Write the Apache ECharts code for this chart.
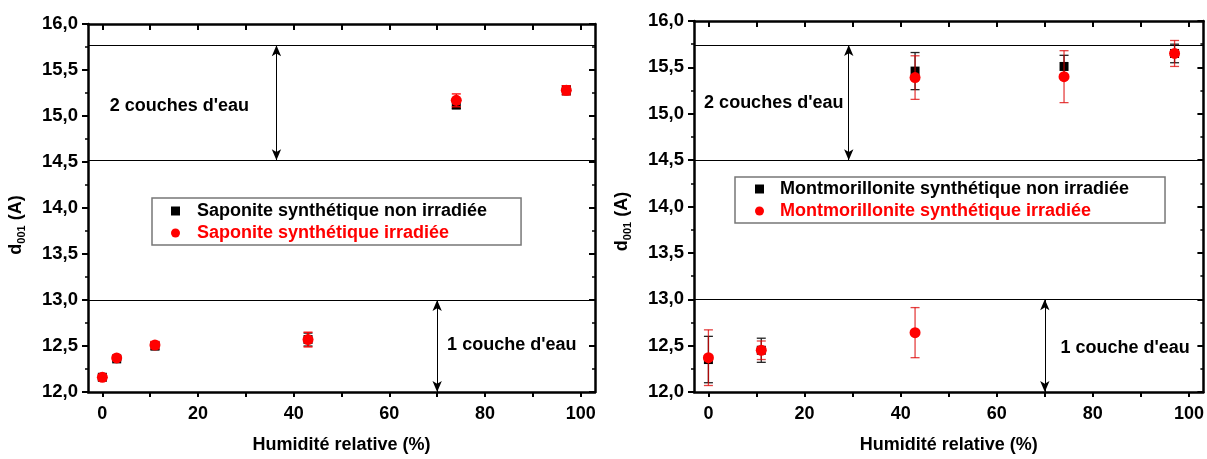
<!DOCTYPE html>
<html>
<head>
<meta charset="utf-8">
<script src="https://cdn.jsdelivr.net/npm/echarts@6/dist/echarts.min.js"></script>
<style>
  html, body { margin: 0; padding: 0; background: #fff; }
  #chart { width: 1207px; height: 459px; }
</style>
</head>
<body>
<div id="chart"></div>
<script>
// [x, d001, erreur]
var sapNonIrr = [[0, 12.16, 0.03], [3, 12.36, 0.02], [11, 12.50, 0.04], [43, 12.57, 0.07], [74, 15.12, 0.04], [97, 15.28, 0.05]];
var sapIrr    = [[0, 12.16, 0.03], [3, 12.37, 0.02], [11, 12.51, 0.04], [43, 12.57, 0.08], [74, 15.17, 0.07], [97, 15.28, 0.05]];
var monNonIrr = [[0, 12.35, 0.25], [11, 12.45, 0.13], [43, 15.46, 0.20], [74, 15.51, 0.12], [97, 15.65, 0.10]];
var monIrr    = [[0, 12.37, 0.30], [11, 12.45, 0.10], [43, 12.64, 0.27], [43, 15.39, 0.235], [74, 15.40, 0.28], [97, 15.65, 0.14]];

var xTickLabels = [0, 20, 40, 60, 80, 100];
var xTicks = [0, 10, 20, 30, 40, 50, 60, 70, 80, 90, 100];

// lignes de référence et flèches (limites des couches d'eau)
var sapLimits = [15.77, 14.52, 13.0];
var monLimits = [15.74, 14.5, 13.0];
var sapArrows = [[36.4, 14.52, 15.77], [70, 12.0, 13.0]];
var monArrows = [[29.2, 14.5, 15.74], [70, 12.0, 13.0]];
var sapNotes = [[16.1, 15.11, "2 couches d'eau"], [85.6, 12.51, "1 couche d'eau"]];
var monNotes = [[13.6, 15.12, "2 couches d'eau"], [86.7, 12.47, "1 couche d'eau"]];

var FONT = 'Liberation Sans, Arial, sans-serif';
var RED = '#ff0000';

var chart = echarts.init(document.getElementById('chart'));

function errRender(color, cap) {
    return function (params, api) {
        var x = api.value(0), y = api.value(1), e = api.value(2);
        var t = api.coord([x, y + e]), b = api.coord([x, y - e]);
        var s = { stroke: color, lineWidth: 1.3 };
        return {
            type: 'group',
            children: [
                { type: 'line', shape: { x1: t[0], y1: t[1], x2: b[0], y2: b[1] }, style: s },
                { type: 'line', shape: { x1: t[0] - cap, y1: t[1], x2: t[0] + cap, y2: t[1] }, style: s },
                { type: 'line', shape: { x1: b[0] - cap, y1: b[1], x2: b[0] + cap, y2: b[1] }, style: s }
            ]
        };
    };
}

function xAxes(grid) {
    return [{
        gridIndex: grid, type: 'value', min: -3, max: 103,
        axisLine: { onZero: false, lineStyle: { color: '#000', width: 2.5 } },
        axisTick: { customValues: xTicks, length: 5, lineStyle: { color: '#000', width: 2 } },
        axisLabel: { customValues: xTickLabels, color: '#000', fontFamily: FONT, fontWeight: 'bold', fontSize: 18, margin: 13 },
        splitLine: { show: false },
        name: 'Humidité relative (%)', nameLocation: 'middle', nameGap: 44,
        nameTextStyle: { color: '#000', fontFamily: FONT, fontWeight: 'bold', fontSize: 18 }
    }, {
        gridIndex: grid, type: 'value', min: -3, max: 103, position: 'top',
        axisLine: { onZero: false, lineStyle: { color: '#000', width: 2.5 } },
        axisTick: { customValues: xTicks, inside: true, length: 6, lineStyle: { color: '#000', width: 2 } },
        axisLabel: { show: false },
        splitLine: { show: false }
    }];
}

function yAxes(grid, shift) {
    return [{
        gridIndex: grid, type: 'value', min: 12, max: 16, interval: 0.5,
        axisLine: { onZero: false, lineStyle: { color: '#000', width: 2.5 } },
        axisTick: { length: 6, lineStyle: { color: '#000', width: 2 } },
        minorTick: { show: true, splitNumber: 2, length: 3, lineStyle: { color: '#000', width: 1.5 } },
        axisLabel: {
            color: '#000', fontFamily: FONT, fontWeight: 'bold', fontSize: 18.5, margin: 10,
            formatter: function (v) { return v.toFixed(1).replace('.', ','); }
        },
        splitLine: { show: false },
        name: '{b|d}{s|001}{b| (A)}', nameLocation: 'middle', nameGap: 61,
        nameTextStyle: {
            padding: [0, shift, 0, 0],
            rich: {
                b: { color: '#000', fontFamily: FONT, fontWeight: 'bold', fontSize: 18, lineHeight: 22 },
                s: { color: '#000', fontFamily: FONT, fontWeight: 'bold', fontSize: 11, lineHeight: 22, verticalAlign: 'bottom', padding: [9, 0, 0, 0] }
            }
        }
    }, {
        gridIndex: grid, type: 'value', min: 12, max: 16, interval: 0.5, position: 'right',
        axisLine: { onZero: false, lineStyle: { color: '#000', width: 2.5 } },
        axisTick: { inside: true, length: 6, lineStyle: { color: '#000', width: 2 } },
        minorTick: { show: true, splitNumber: 2, length: 3, lineStyle: { color: '#000', width: 1.5 } },
        axisLabel: { show: false },
        splitLine: { show: false }
    }];
}

function panelSeries(ax, names, black, red, limits, arrows, notes, redErr) {
    return [{
        type: 'custom', xAxisIndex: ax, yAxisIndex: ax, z: 3,
        renderItem: errRender('#222', 4.5), encode: { x: 0, y: 1 }, data: black
    }, {
        name: names[0], type: 'scatter', xAxisIndex: ax, yAxisIndex: ax, z: 4,
        symbol: 'rect', symbolSize: 9, itemStyle: { color: '#000', opacity: 1 },
        data: black.map(function (d) { return [d[0], d[1]]; }),
        markLine: {
            silent: true, symbol: ['arrow', 'arrow'], symbolSize: [7, 11], animation: false,
            label: { show: false }, lineStyle: { color: '#000', width: 1, type: 'solid' },
            data: arrows.map(function (a) { return [{ coord: [a[0], a[1]] }, { coord: [a[0], a[2]] }]; })
        }
    }, {
        type: 'custom', xAxisIndex: ax, yAxisIndex: ax, z: 5,
        renderItem: errRender(redErr, 4.5), encode: { x: 0, y: 1 }, data: red
    }, {
        name: names[1], type: 'scatter', xAxisIndex: ax, yAxisIndex: ax, z: 6,
        symbol: 'circle', symbolSize: 11, itemStyle: { color: RED, opacity: 1 },
        data: red.map(function (d) { return [d[0], d[1]]; })
    }, {
        type: 'scatter', xAxisIndex: ax, yAxisIndex: ax, z: 2, symbolSize: 0, silent: true,
        itemStyle: { opacity: 1, color: '#000' },
        label: {
            show: true, position: 'inside', formatter: '{b}', color: '#000',
            textBorderWidth: 0, fontFamily: FONT, fontWeight: 'bold', fontSize: 18
        },
        data: notes.map(function (n) { return { name: n[2], value: [n[0], n[1]] }; }),
        markLine: {
            silent: true, symbol: 'none', animation: false, label: { show: false },
            lineStyle: { color: '#000', width: 1, type: 'solid' },
            data: limits.map(function (v) { return { yAxis: v }; })
        }
    }];
}

var sapNames = ['Saponite synthétique non irradiée', 'Saponite synthétique irradiée'];
var monNames = ['Montmorillonite synthétique non irradiée', 'Montmorillonite synthétique irradiée'];

function legendFor(names, left, top, pad, textPad) {
    return {
        left: left, top: top, orient: 'vertical', itemWidth: 9, itemHeight: 9, itemGap: 4,
        padding: pad, borderColor: '#777', borderWidth: 1.5, selectedMode: false,
        textStyle: { fontFamily: FONT, fontWeight: 'bold', fontSize: 18, padding: [0, 0, 0, textPad] },
        data: [
            { name: names[0], icon: 'rect', textStyle: { color: '#000' } },
            { name: names[1], icon: 'circle', textStyle: { color: RED } }
        ]
    };
}

chart.setOption({
    animation: false,
    grid: [
        { left: 88, top: 24, width: 507, height: 373 },
        { left: 694, top: 21, width: 510, height: 373 }
    ],
    xAxis: xAxes(0).concat(xAxes(1)),
    yAxis: yAxes(0, 34).concat(yAxes(1, 30)),
    legend: [
        legendFor(sapNames, 152, 198, [4, 34, 3, 19], 12),
        legendFor(monNames, 735, 177, [3, 36, 3, 20], 11)
    ],
    series: panelSeries(0, sapNames, sapNonIrr, sapIrr, sapLimits, sapArrows, sapNotes, RED)
        .concat(panelSeries(2, monNames, monNonIrr, monIrr, monLimits, monArrows, monNotes, 'rgba(220,0,0,0.75)'))
});
</script>
</body>
</html>
